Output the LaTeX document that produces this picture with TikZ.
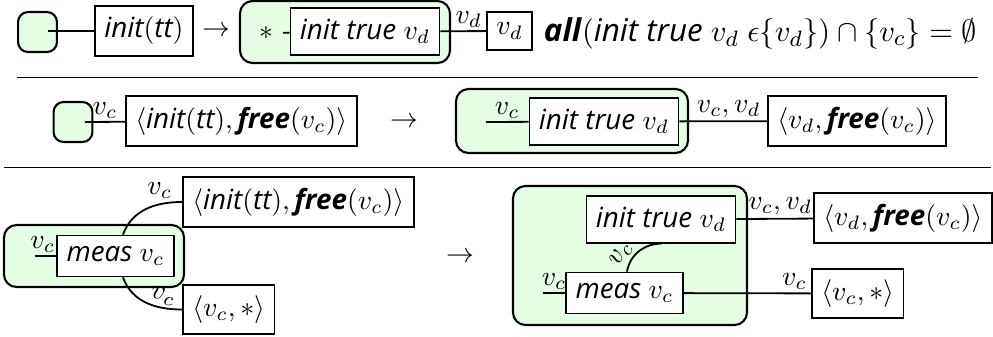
\documentclass[tikz,border=0pt]{standalone}
\usepackage{fontspec}
\setmainfont{Open Sans}
\usetikzlibrary{calc}

\tikzset{
  box/.style={draw, fill=white, line width=0.65pt, inner xsep=3.4pt, inner ysep=3.9pt},
  grp/.style={draw, fill=green!10, line width=0.75pt, rounded corners=4.5pt},
  hole/.style={draw, fill=green!10, line width=0.75pt, rounded corners=3.6pt,
    minimum width=14pt, minimum height=14.4pt},
  lab/.style={inner sep=1pt},
}

\begin{document}
\begin{tikzpicture}[x=0.36pt,y=-0.36pt,line width=0.65pt]
    \useasboundingbox (0,0) rectangle (993,336);

    % First rule
    \draw[grp] (240,1) rectangle (450,63);
    \node[hole] (h1) at (37.5,32) {};
    \coordinate (h1p) at (48,31);
    \node[box] (it1) at (144,31) {$\textit{init}(\textit{tt})$};
    \node (ar1) at (216,31) {$\to$};
    \node (st1) at (266,33) {$*$};
    \node[box] (itv1) at (365,31.5) {\textit{init true} $v_d$};
    \node[box,anchor=west] (vd1) at (486,31) {$v_d$};
    \node[anchor=west,inner sep=0pt,font=\fontsize{11.3}{13}\selectfont] (all1) at (543,33)
        {\textbf{\textit{all}}$($\textit{init true} $v_d\ \epsilon\{v_d\})\cap\{v_c\}=\emptyset$};
    \draw (h1p) -- (it1);
    \draw (st1) -- (itv1);
    \draw (itv1) -- node[lab,above,xshift=2pt] {$v_d$} (vd1);

    \draw[line width=0.36pt] (17,77) -- (978,77);

    % Second rule
    \node[hole] (h2) at (73,122) {};
    \coordinate (h2p) at (85,122);
    \node[box,anchor=west] (if2) at (125,121) {$\langle\textit{init}(\textit{tt}),\textbf{\textit{free}}(v_c)\rangle$};
    \draw (h2p) -- node[lab,above] {$v_c$} (if2);
    \node (ar2) at (404,122) {$\to$};
    \draw[grp] (456,89) rectangle (688,153);
    \coordinate (g2p) at (486,122);
    \node[box] (itv2) at (604,121.5) {\textit{init true} $v_d$};
    \draw (g2p) -- node[lab,above] {$v_c$} (itv2);
    \node[box,anchor=west] (vf2) at (767,121) {$\langle v_d,\textbf{\textit{free}}(v_c)\rangle$};
    \draw (itv2) -- node[lab,above,xshift=2pt] {$v_c, v_d$} (vf2);

    \draw[line width=0.36pt] (4,167) -- (991,167);

    % Third rule, left side
    \draw[grp] (4,225) rectangle (184,287);
    \node[box] (ms3) at (115.5,256) {\textit{meas} $v_c$};
    \coordinate (g3p) at (35,256);
    \draw (g3p) -- node[lab,above,xshift=-1pt] {$v_c$} (ms3);
    \node[box,anchor=west] (if3) at (182,202) {$\langle\textit{init}(\textit{tt}),\textbf{\textit{free}}(v_c)\rangle$};
    \node[box,anchor=west] (vs3) at (182,309.5) {$\langle v_c,*\rangle$};
    \draw ($(ms3.north)+(7.5,0)$) to[out=70,in=180]
        node[lab,pos=0.85,above left,xshift=2pt] {$v_c$} (if3.west);
    \draw ($(ms3.south)+(7.5,0)$) to[out=-70,in=180]
        node[lab,pos=0.72,sloped,above] {$v_c$} (vs3.west);
    \node (ar3) at (460,257) {$\to$};

    % Third rule, right side
    \draw[grp] (513,186) rectangle (747,325);
    \node[box] (itv4) at (661,219.5) {\textit{init true} $v_d$};
    \node[box] (ms4) at (624.5,293) {\textit{meas} $v_c$};
    \coordinate (g4p) at (543,293);
    \draw (g4p) -- node[lab,above] {$v_c$} (ms4);
    \draw ($(ms4.north)+(2.5,0)$) to[out=80,in=180]
        node[lab,pos=0.25,sloped,above] {$v_c$} ($(itv4.south)+(1,0)$);
    \node[box,anchor=west] (vf4) at (813,218) {$\langle v_d,\textbf{\textit{free}}(v_c)\rangle$};
    \draw (itv4) -- node[lab,above,xshift=2pt] {$v_c, v_d$} (vf4);
    \node[box,anchor=west] (vs4) at (811,293.5) {$\langle v_c,*\rangle$};
    \draw (ms4) -- node[lab,above,pos=0.87] {$v_c$} (vs4);

\end{tikzpicture}
\end{document}
